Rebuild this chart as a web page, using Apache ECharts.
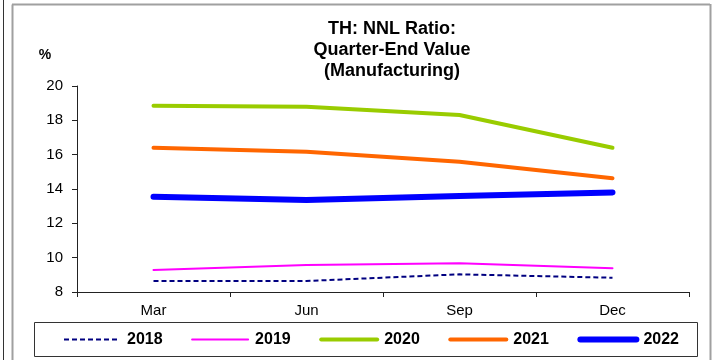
<!DOCTYPE html>
<html>
<head>
<meta charset="utf-8">
<script src="https://cdn.jsdelivr.net/npm/echarts@6/dist/echarts.min.js"></script>
<style>
  html, body { margin: 0; padding: 0; background: #fff; }
  #chart { width: 712px; height: 360px; }
</style>
</head>
<body>
<div id="chart"></div>
<script>
var quarters = ["Mar", "Jun", "Sep", "Dec"];
var years = ["2018", "2019", "2020", "2021", "2022"];
var y2018 = [8.64, 8.64, 9.03, 8.83];
var y2019 = [9.28, 9.57, 9.67, 9.38];
var y2020 = [18.85, 18.79, 18.31, 16.40];
var y2021 = [16.40, 16.17, 15.59, 14.62];
var y2022 = [13.55, 13.36, 13.59, 13.80];
var yTicks = { min: 8, max: 20, step: 2 };

var seriesData = [y2018, y2019, y2020, y2021, y2022];
var lineColors = ["#000080", "#ff00ff", "#99cc00", "#ff6600", "#0000ff"];
var lineWidths = [2, 2, 4, 4, 6];

var myChart = echarts.init(document.getElementById("chart"));

var series = [];
var legendItems = [];
for (var i = 0; i < years.length; i++) {
  var ls = {
    color: lineColors[i],
    width: lineWidths[i],
    type: i === 0 ? [5, 3] : "solid",
    cap: i === 0 ? "butt" : "round"
  };
  series.push({
    name: years[i],
    type: "line",
    symbol: "none",
    data: seriesData[i],
    z: 2 + i,
    lineStyle: ls,
    itemStyle: { color: lineColors[i] }
  });
  legendItems.push({
    name: years[i],
    itemStyle: { opacity: 0 },
    lineStyle: ls
  });
}

var option = {
  backgroundColor: "#fff",
  animation: false,
  textStyle: { fontFamily: "Liberation Sans, Arial, sans-serif" },
  title: {
    text: "TH: NNL Ratio:\nQuarter-End Value\n(Manufacturing)",
    left: 387,
    textAlign: "center",
    top: 14,
    textStyle: {
      fontSize: 18,
      fontWeight: "bold",
      color: "#000",
      lineHeight: 21,
      fontFamily: "Liberation Sans, Arial, sans-serif"
    }
  },
  graphic: [
    { type: "line", shape: { x1: 3.5, y1: 0, x2: 3.5, y2: 360 }, style: { stroke: "#333", lineWidth: 1 } },
    { type: "line", shape: { x1: 12.5, y1: 4.5, x2: 12.5, y2: 360 }, style: { stroke: "#a0a0a0", lineWidth: 2 } },
    { type: "line", shape: { x1: 12, y1: 4.5, x2: 710, y2: 4.5 }, style: { stroke: "#a0a0a0", lineWidth: 2 } },
    { type: "line", shape: { x1: 710.5, y1: 4, x2: 710.5, y2: 360 }, style: { stroke: "#a0a0a0", lineWidth: 2 } },
    { type: "rect", shape: { x: 34.5, y: 322.5, width: 663, height: 34 }, style: { fill: "#fff", stroke: "#333", lineWidth: 1 }, z: -1 }
  ],
  legend: {
    data: legendItems,
    left: 63,
    top: 331.5,
    itemWidth: 56,
    itemHeight: 14,
    itemGap: 28.5,
    padding: 0,
    itemStyle: { opacity: 0 },
    textStyle: {
      fontSize: 16,
      fontWeight: "bold",
      color: "#000",
      padding: [0, 0, 0, 2]
    }
  },
  grid: {
    left: 77,
    right: 23,
    top: 86,
    bottom: 68,
    containLabel: false
  },
  xAxis: {
    type: "category",
    data: quarters,
    boundaryGap: true,
    axisLine: { lineStyle: { color: "#222", width: 1 } },
    axisTick: { show: true, length: 5, lineStyle: { color: "#222" } },
    axisLabel: { color: "#000", fontSize: 15, margin: 11 },
    splitLine: { show: false }
  },
  yAxis: {
    type: "value",
    min: yTicks.min,
    max: yTicks.max,
    interval: yTicks.step,
    name: "%",
    nameLocation: "end",
    nameGap: 24,
    nameTextStyle: { color: "#000", fontSize: 14, fontWeight: "bold", padding: [0, 64, 0, 0] },
    axisLine: { show: true, lineStyle: { color: "#222", width: 1 } },
    axisTick: { show: true, length: 5, lineStyle: { color: "#222" } },
    axisLabel: { color: "#000", fontSize: 15, margin: 14 },
    splitLine: { show: false }
  },
  series: series
};

myChart.setOption(option);
</script>
</body>
</html>
